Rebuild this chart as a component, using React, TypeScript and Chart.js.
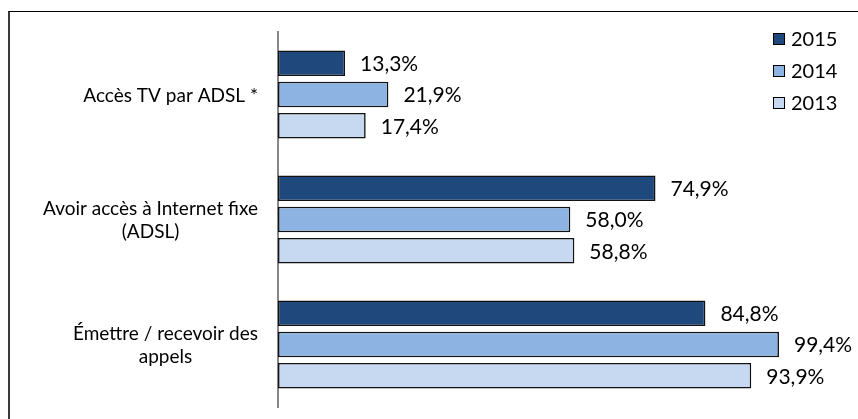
import React, { useEffect, useRef } from "react";
import { Chart, registerables } from "chart.js";

Chart.register(...registerables);

const categories: string[][] = [
  ["Accès TV par ADSL *"],
  ["Avoir accès à Internet fixe", "(ADSL)"],
  ["Émettre / recevoir des", "appels"],
];
const seriesNames = ["2015", "2014", "2013"];
const values2015 = [13.3, 74.9, 84.8];
const values2014 = [21.9, 58.0, 99.4];
const values2013 = [17.4, 58.8, 93.9];

const FONT_FAMILY = "Lato, 'Open Sans', sans-serif";
const VALUE_FONT = `21px ${FONT_FAMILY}`;
const CAT_FONT = `19px ${FONT_FAMILY}`;
const LEGEND_FONT = `20px ${FONT_FAMILY}`;

const fmt = (v: number) => v.toFixed(1).replace(".", ",") + "%";

const customPlugin = {
  id: "customLabels",
  afterDraw(chart: any) {
    const ctx = chart.ctx as CanvasRenderingContext2D;
    const area = chart.chartArea;
    const yScale = chart.scales.y;
    ctx.save();
    ctx.fillStyle = "#000";
    ctx.textBaseline = "middle";

    // value labels
    ctx.font = VALUE_FONT;
    chart.data.datasets.forEach((ds: any, i: number) => {
      const meta = chart.getDatasetMeta(i);
      meta.data.forEach((bar: any, j: number) => {
        ctx.textAlign = "left";
        ctx.fillText(fmt(ds.data[j]), bar.x + 15, bar.y + 1);
      });
    });

    // category labels: right-aligned blocks, centered lines
    ctx.font = CAT_FONT;
    const lineH = 23;
    chart.data.labels.forEach((lab: any, j: number) => {
      const lines: string[] = Array.isArray(lab) ? lab : [lab];
      const w = Math.max(...lines.map((l) => ctx.measureText(l).width));
      const right = area.left - 20;
      const cx = right - w / 2;
      const cy = yScale.getPixelForValue(j);
      ctx.textAlign = "center";
      lines.forEach((l, k) => {
        ctx.fillText(l, cx, cy + 1 + (k - (lines.length - 1) / 2) * lineH);
      });
    });

    // legend
    ctx.font = LEGEND_FONT;
    const lx = area.right - 9;
    chart.data.datasets.forEach((ds: any, i: number) => {
      const cy = area.top + 7 + i * 32;
      ctx.fillStyle = ds.backgroundColor;
      ctx.fillRect(lx, cy - 6, 12, 12);
      ctx.strokeStyle = "#000";
      ctx.lineWidth = 1;
      ctx.strokeRect(lx + 0.5, cy - 5.5, 11, 11);
      ctx.fillStyle = "#000";
      ctx.textAlign = "left";
      ctx.fillText(ds.label, lx + 18, cy + 1);
    });
    ctx.restore();
  },
};

export default function App() {
  const canvasRef = useRef<HTMLCanvasElement | null>(null);

  useEffect(() => {
    if (!canvasRef.current) return;
    const common = {
      borderColor: "#111",
      borderWidth: 1.6,
      borderSkipped: false,
      categoryPercentage: 0.75,
      barPercentage: 0.82,
    };
    const chart = new Chart(canvasRef.current, {
      type: "bar",
      data: {
        labels: categories,
        datasets: [
          { label: seriesNames[0], data: values2015, backgroundColor: "#1F497D", ...common },
          { label: seriesNames[1], data: values2014, backgroundColor: "#8DB3E2", ...common },
          { label: seriesNames[2], data: values2013, backgroundColor: "#C6D9F1", ...common },
        ],
      },
      options: {
        indexAxis: "y",
        responsive: false,
        animation: false,
        layout: { padding: { top: 21, bottom: 12, right: 76, left: 0 } },
        plugins: {
          legend: { display: false },
          tooltip: { enabled: false },
        },
        scales: {
          x: { display: false, min: 0, max: 100 },
          y: {
            z: 1,
            grid: { display: false },
            border: { display: true, color: "#888888", width: 2 },
            ticks: { display: false },
            afterFit: (scale: any) => {
              scale.width = 270;
            },
          },
        },
      } as any,
      plugins: [customPlugin],
    });
    return () => chart.destroy();
  }, []);

  return (
    <div
      style={{
        position: "fixed",
        left: 8,
        top: 11,
        width: 850,
        height: 408,
        overflow: "hidden",
        background: "#fff",
      }}
    >
      <div
        style={{
          position: "absolute",
          left: 0,
          top: 0,
          width: 900,
          height: 500,
          borderLeft: "2px solid #3a3a3a",
          borderTop: "1px solid #000",
          boxSizing: "border-box",
        }}
      />
      <canvas
        ref={canvasRef}
        width={850}
        height={408}
        style={{ position: "absolute", left: 0, top: 0, display: "block" }}
      />
    </div>
  );
}
